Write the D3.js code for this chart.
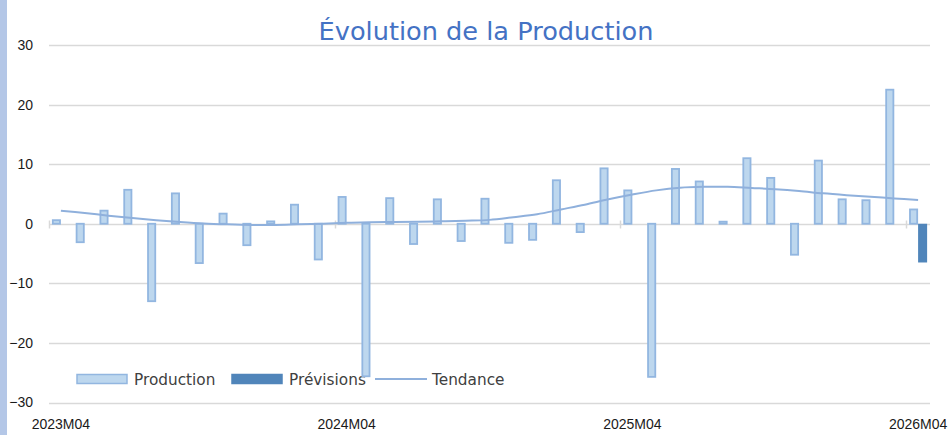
<!DOCTYPE html>
<html>
<head>
<meta charset="utf-8">
<script src="https://cdn.jsdelivr.net/npm/d3@7"></script>
<style>
    html, body { margin: 0; padding: 0; background: #fff; }
    svg { display: block; }
</style>
</head>
<body>
<svg id="chart" width="950" height="435"></svg>
<script>
// ── Data ──
const months = [
    "2023M04", "2023M05", "2023M06", "2023M07", "2023M08", "2023M09",
    "2023M10", "2023M11", "2023M12", "2024M01", "2024M02", "2024M03",
    "2024M04", "2024M05", "2024M06", "2024M07", "2024M08", "2024M09",
    "2024M10", "2024M11", "2024M12", "2025M01", "2025M02", "2025M03",
    "2025M04", "2025M05", "2025M06", "2025M07", "2025M08", "2025M09",
    "2025M10", "2025M11", "2025M12", "2026M01", "2026M02", "2026M03",
    "2026M04"
];
const tickLabels = ["2023M04", "2024M04", "2025M04", "2026M04"];
const yTicks = [-30, -20, -10, 0, 10, 20, 30];

const production = [
    0.6, -3.1, 2.2, 5.7, -13.0, 5.1, -6.6, 1.7, -3.6, 0.4, 3.2, -6.0,
    4.5, -25.6, 4.3, -3.4, 4.1, -2.9, 4.2, -3.2, -2.7, 7.3, -1.4, 9.3,
    5.6, -25.7, 9.2, 7.1, 0.35, 11.0, 7.7, -5.2, 10.6, 4.1, 3.95, 22.5,
    2.4
];
const previsions = [
    null, null, null, null, null, null, null, null, null, null, null, null,
    null, null, null, null, null, null, null, null, null, null, null, null,
    null, null, null, null, null, null, null, null, null, null, null, null,
    -6.5
];
const tendance = [
    2.2, 1.8, 1.35, 0.95, 0.6, 0.3, 0.05, -0.1, -0.2, -0.2, -0.1, 0.0,
    0.15, 0.25, 0.3, 0.35, 0.4, 0.5, 0.65, 1.1, 1.6, 2.4, 3.2, 4.1,
    4.9, 5.6, 6.05, 6.2, 6.2, 6.0, 5.8, 5.5, 5.1, 4.8, 4.55, 4.25,
    4.0
];
const seriesNames = ["Production", "Prévisions", "Tendance"];

// ── Styles ──
const colors = {
    prodFill: "#bdd7ee",
    prodStroke: "#92b6e0",
    prevFill: "#5085ba",
    trend: "#8fb0dc",
    grid: "#d9d9d9",
    title: "#4472c4",
    text: "#1a1a1a",
    strip: "#b4c7e7"
};
const gothic = "'DejaVu Sans', 'Noto Sans', sans-serif";
const calibri = "'Liberation Sans', Arial, sans-serif";

const svg = d3.select("#chart");
const plot = { left: 49, right: 930, top: 45, bottom: 402.5 };

// Left accent strip
svg.append("rect")
    .attr("x", 0).attr("y", 0)
    .attr("width", 7).attr("height", 435)
    .style("fill", colors.strip);

// ── Scales ──
const x = d3.scaleBand()
    .domain(months)
    .range([plot.left, plot.right])
    .paddingInner(0)
    .paddingOuter(0);

const xSub = d3.scaleBand()
    .domain(["Production", "Prévisions"])
    .range([0, x.bandwidth()])
    .paddingInner(0)
    .paddingOuter(0.32);

const y = d3.scaleLinear()
    .domain([-30, 30])
    .range([plot.bottom, plot.top]);

// ── Gridlines ──
svg.append("g")
    .selectAll("line")
    .data(yTicks)
    .join("line")
    .attr("x1", plot.left)
    .attr("x2", plot.right)
    .attr("y1", d => Math.round(y(d)) + 0.5)
    .attr("y2", d => Math.round(y(d)) + 0.5)
    .style("stroke", colors.grid)
    .style("stroke-width", 1.5);

// ── Y axis labels ──
const yAxis = svg.append("g")
    .attr("transform", `translate(${plot.left},0)`)
    .call(d3.axisLeft(y).tickValues(yTicks).tickSize(0).tickPadding(16));
yAxis.select(".domain").remove();
yAxis.selectAll("text")
    .style("font-family", calibri)
    .style("font-size", "14px")
    .style("fill", colors.text);

// ── Category axis (zero line, ticks every 12 months) ──
const zeroY = Math.round(y(0)) + 0.5;
const tickEvery = months.filter((m, i) => i % 12 === 0);
svg.append("g")
    .selectAll("line")
    .data(tickEvery)
    .join("line")
    .attr("x1", d => Math.round(x(d)) + 0.5)
    .attr("x2", d => Math.round(x(d)) + 0.5)
    .attr("y1", zeroY - 4)
    .attr("y2", zeroY + 4)
    .style("stroke", colors.grid)
    .style("stroke-width", 1.5);

svg.append("g")
    .selectAll("text")
    .data(tickLabels)
    .join("text")
    .attr("x", d => x(d) + x.bandwidth() / 2)
    .attr("y", 429)
    .attr("text-anchor", "middle")
    .style("font-family", calibri)
    .style("font-size", "14px")
    .style("fill", colors.text)
    .text(d => d);

// ── Title ──
const title = svg.append("text")
    .attr("x", 486)
    .attr("y", 40)
    .attr("text-anchor", "middle")
    .style("font-family", gothic)
    .style("font-size", "25.5px")
    .style("fill", colors.title)
    .text("Évolution de la Production");
// fit title width to the reference (~335px)
const tw = title.node().getComputedTextLength();
title.style("font-size", (25.5 * 335 / tw).toFixed(2) + "px");

// ── Legend (sits inside the plot, drawn below the bars) ──
const legend = svg.append("g").attr("transform", "translate(0,379)");
const legendItems = [
    { name: seriesNames[0], x: 77, textX: 134, type: "bar", fill: colors.prodFill, stroke: colors.prodStroke },
    { name: seriesNames[1], x: 232, textX: 289, type: "bar", fill: colors.prevFill, stroke: colors.prevFill },
    { name: seriesNames[2], x: 375, textX: 432, type: "line", stroke: colors.trend }
];
legendItems.forEach(item => {
    if (item.type === "bar") {
        legend.append("rect")
            .attr("x", item.x).attr("y", -4.5)
            .attr("width", 50).attr("height", 9)
            .style("fill", item.fill)
            .style("stroke", item.stroke)
            .style("stroke-width", 1.5);
    } else {
        legend.append("line")
            .attr("x1", item.x).attr("x2", item.x + 52)
            .attr("y1", 0).attr("y2", 0)
            .style("stroke", item.stroke)
            .style("stroke-width", 2);
    }
    legend.append("text")
        .attr("x", item.textX)
        .attr("y", 6)
        .style("font-family", gothic)
        .style("font-size", "15.3px")
        .style("fill", "#404040")
        .text(item.name);
});

// ── Bars ──
const prodData = months.map((m, i) => ({ m, v: production[i] }));
const prevData = months.map((m, i) => ({ m, v: previsions[i] })).filter(d => d.v !== null);

svg.append("g")
    .selectAll("rect")
    .data(prodData)
    .join("rect")
    .attr("x", d => x(d.m) + xSub("Production") + 0.9)
    .attr("width", xSub.bandwidth() - 1.8)
    .attr("y", d => Math.min(y(d.v), y(0)))
    .attr("height", d => Math.abs(y(d.v) - y(0)))
    .style("fill", colors.prodFill)
    .style("stroke", colors.prodStroke)
    .style("stroke-width", 1.8);

svg.append("g")
    .selectAll("rect")
    .data(prevData)
    .join("rect")
    .attr("x", d => x(d.m) + xSub("Prévisions"))
    .attr("width", xSub.bandwidth())
    .attr("y", d => Math.min(y(d.v), y(0)))
    .attr("height", d => Math.abs(y(d.v) - y(0)))
    .style("fill", colors.prevFill);

// ── Trend line ──
const line = d3.line()
    .x((d, i) => x(months[i]) + x.bandwidth() / 2)
    .y(d => y(d))
    .curve(d3.curveCatmullRom.alpha(0.5));

svg.append("path")
    .datum(tendance)
    .attr("d", line)
    .style("fill", "none")
    .style("stroke", colors.trend)
    .style("stroke-width", 2);
</script>
</body>
</html>
